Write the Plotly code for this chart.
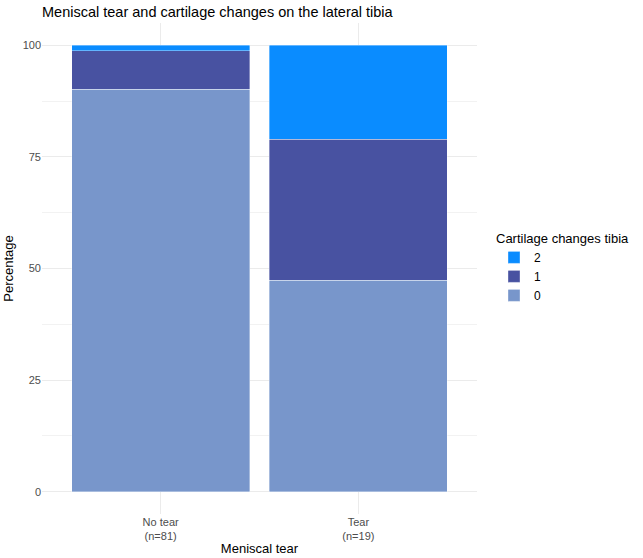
import plotly.graph_objects as go

# categories on the x axis
groups = ["No tear<br>(n=81)", "Tear<br>(n=19)"]

# percentage of each cartilage-change grade within each group
grade_0 = [90.12, 47.37]
grade_1 = [8.64, 31.58]
grade_2 = [1.23, 21.05]

grades = ["0", "1", "2"]
colors = ["#7896CB", "#4852A1", "#0A8CFF"]

fig = go.Figure()

for name, vals, col in zip(grades, [grade_0, grade_1, grade_2], colors):
    fig.add_trace(
        go.Bar(
            x=groups,
            y=vals,
            name=name,
            marker=dict(color=col, line=dict(color="rgba(255,255,255,0.6)", width=0.6)),
        )
    )

fig.update_layout(
    width=643,
    height=558,
    barmode="stack",
    bargap=0.1,
    plot_bgcolor="white",
    paper_bgcolor="white",
    font=dict(family="Liberation Sans, Arial, sans-serif", color="black"),
    margin=dict(l=42, r=166, t=23, b=44),
    title=dict(
        text="Meniscal tear and cartilage changes on the lateral tibia",
        x=42 / 643,
        xanchor="left",
        y=1 - 12 / 558,
        yanchor="middle",
        font=dict(size=14.5, color="black"),
    ),
    legend=dict(
        title=dict(text="Cartilage changes tibia", font=dict(size=13)),
        traceorder="reversed",
        xref="container",
        yref="container",
        x=494 / 643,
        xanchor="left",
        y=1 - 268 / 558,
        yanchor="middle",
        font=dict(size=12, color="black"),
        itemwidth=30,
    ),
)

fig.update_xaxes(
    range=[-0.6, 1.6],
    automargin=False,
    showgrid=True,
    gridcolor="#EBEBEB",
    gridwidth=1,
    ticks="",
    showline=False,
    zeroline=False,
    tickfont=dict(size=11, color="#4D4D4D"),
    title=dict(text="Meniscal tear", font=dict(size=13), standoff=2),
)

fig.update_yaxes(
    range=[-5, 105],
    automargin=False,
    tickvals=[0, 25, 50, 75, 100],
    showgrid=True,
    gridcolor="#EBEBEB",
    gridwidth=1,
    minor=dict(tickvals=[12.5, 37.5, 62.5, 87.5], showgrid=True, gridcolor="#F2F2F2", gridwidth=0.6),
    ticks="",
    showline=False,
    zeroline=False,
    tickfont=dict(size=11, color="#4D4D4D"),
    title=dict(text="Percentage", font=dict(size=13), standoff=6),
)

# page body has a default margin; drop it so the figure sits at the window corner
fig.write_html(
    "out.html",
    config={"displayModeBar": False},
    post_script="document.body.style.margin='0';",
)
